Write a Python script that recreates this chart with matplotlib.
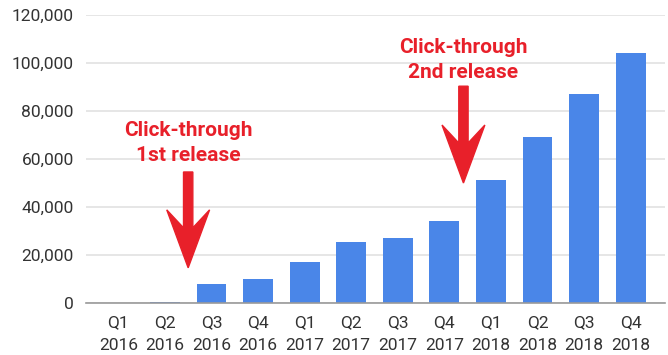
import matplotlib.pyplot as plt
from matplotlib.patches import Polygon

quarters = ["Q1\n2016", "Q2\n2016", "Q3\n2016", "Q4\n2016",
            "Q1\n2017", "Q2\n2017", "Q3\n2017", "Q4\n2017",
            "Q1\n2018", "Q2\n2018", "Q3\n2018", "Q4\n2018"]
values = [0, 500, 7900, 9900, 17000, 25300, 27000, 34200,
          51200, 69200, 87000, 104200]
yticks = [0, 20000, 40000, 60000, 80000, 100000, 120000]

# release markers: (x position between bars, label, tip, shaft top, text y)
releases = [(1.5, "Click-through\n1st release", 14600, 54600, 66700),
            (7.41, "Click-through\n2nd release", 50000, 90400, 101500)]

red = "#e8202a"
blue = "#4a86e8"

plt.rcParams['font.family'] = ['Roboto', 'DejaVu Sans']

fig = plt.figure(figsize=(6.68, 3.55), dpi=100)
ax = fig.add_axes([0.129, 0.147, 0.866, 0.81])

x = list(range(len(quarters)))
ax.bar(x, values, width=0.64, color=blue, zorder=2)

ax.set_xlim(-0.69, len(quarters) - 1 + 0.73)
ax.set_ylim(0, 120000)
ax.set_yticks(yticks)
ax.set_yticklabels([f"{v:,}" for v in yticks])
ax.set_xticks(x)
ax.set_xticklabels(quarters, linespacing=1.65)
ax.tick_params(length=0, labelsize=12.5, colors="#333333", pad=9)
ax.tick_params(axis="y", pad=9)
ax.grid(axis="y", color="#e2e2e2", linewidth=1.2, zorder=0)
for s in ["top", "right", "left"]:
    ax.spines[s].set_visible(False)
ax.spines["bottom"].set_color("#9a9a9a")
ax.spines["bottom"].set_linewidth(1.2)
ax.spines["bottom"].set_zorder(3)

for xc, label, tip, top, ty in releases:
    hw = 0.46   # half head width
    sw = 0.1    # half shaft width
    corner = tip + 24200
    notch = tip + 16700
    pts = [(xc - sw, top), (xc + sw, top), (xc + sw, notch),
           (xc + hw, corner), (xc, tip), (xc - hw, corner), (xc - sw, notch)]
    ax.add_patch(Polygon(pts, closed=True, color=red, zorder=4))
    ax.text(xc, ty, label, ha="center", va="center", color=red,
            fontsize=15, fontweight="bold", linespacing=1.4, zorder=5)

fig.savefig("out.png", dpi=100)
